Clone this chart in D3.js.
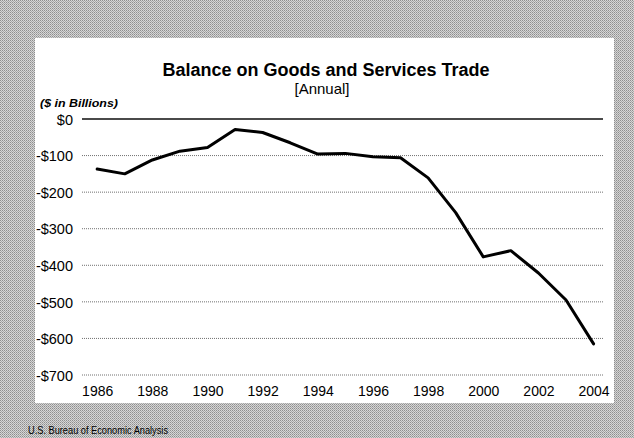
<!DOCTYPE html>
<html>
<head>
<meta charset="utf-8">
<script src="https://cdn.jsdelivr.net/npm/d3@7/dist/d3.min.js"></script>
<style>
  html, body { margin: 0; padding: 0; background: #bbbbbb; }
  svg { display: block; }
  text { font-family: Arial, "Liberation Sans", sans-serif; fill: #000; }
</style>
</head>
<body>
<svg id="chart" width="634" height="438"></svg>
<script>
// Annual balance on goods and services trade, billions of dollars
const years = [1986, 1987, 1988, 1989, 1990, 1991, 1992, 1993, 1994, 1995,
               1996, 1997, 1998, 1999, 2000, 2001, 2002, 2003, 2004];
const balance = [-137, -150, -112, -88, -78, -29, -37, -65, -96, -94,
                 -103, -106, -161, -256, -377, -360, -421, -495, -615];
const yTicks = [0, -100, -200, -300, -400, -500, -600, -700];
const xTickYears = [1986, 1988, 1990, 1992, 1994, 1996, 1998, 2000, 2002, 2004];

const titleText = "Balance on Goods and Services Trade";
const subtitleText = "[Annual]";
const unitText = "($ in Billions)";
const sourceText = "U.S. Bureau of Economic Analysis";

const W = 634, H = 438;
const panel = { x: 35, y: 38, w: 579, h: 365 };
const plot = { left: 82, right: 603, top: 119, bottom: 375 };

const svg = d3.select("#chart");
const defs = svg.append("defs");

// halftone-like grey backdrop
const pat = defs.append("pattern")
  .attr("id", "dither").attr("width", 2).attr("height", 2)
  .attr("patternUnits", "userSpaceOnUse");
pat.append("rect").attr("width", 2).attr("height", 2).attr("fill", "#d6d6d6");
pat.append("rect").attr("width", 1).attr("height", 1).attr("fill", "#8e8e8e");
pat.append("rect").attr("x", 1).attr("y", 1).attr("width", 1).attr("height", 1).attr("fill", "#a8a8a8");

svg.append("rect").attr("width", W).attr("height", H).attr("fill", "url(#dither)");

svg.append("rect")
  .attr("x", panel.x).attr("y", panel.y)
  .attr("width", panel.w).attr("height", panel.h)
  .attr("fill", "#ffffff");

const x = d3.scaleLinear().domain([1985.45, 2004.45]).range([plot.left, plot.right + 3]);
const y = d3.scaleLinear().domain([0, -700]).range([plot.top, plot.bottom]);

// horizontal gridlines
svg.append("g").selectAll("line")
  .data(yTicks)
  .join("line")
  .attr("x1", plot.left).attr("x2", plot.right)
  .attr("y1", d => y(d)).attr("y2", d => y(d))
  .attr("stroke", d => d === 0 ? "#4a4a4a" : "#707070")
  .attr("stroke-width", d => d === 0 ? 2 : 1)
  .attr("stroke-dasharray", d => d === 0 ? null : "1,1");

// y axis labels
const fmt = v => (v < 0 ? "-$" : "$") + Math.abs(v);
const yAxis = d3.axisLeft(y).tickValues(yTicks).tickFormat(fmt).tickSize(0).tickPadding(0);
const gy = svg.append("g").attr("transform", `translate(73,0)`).call(yAxis);
gy.select(".domain").remove();
gy.selectAll("text").attr("font-size", 14.5).attr("font-family", "Arial, 'Liberation Sans', sans-serif")
  .attr("fill", "#000").attr("dy", "0.36em");

// x axis labels
const xAxis = d3.axisBottom(x).tickValues(xTickYears).tickFormat(d3.format("d")).tickSize(0).tickPadding(0);
const gx = svg.append("g").attr("transform", `translate(0,386)`).call(xAxis);
gx.select(".domain").remove();
gx.selectAll("text").attr("font-size", 14).attr("font-family", "Arial, 'Liberation Sans', sans-serif")
  .attr("fill", "#000");

// trade balance line
const line = d3.line().x((d, i) => x(years[i])).y(d => y(d));
svg.append("path")
  .datum(balance)
  .attr("d", line)
  .attr("fill", "none")
  .attr("stroke", "#000")
  .attr("stroke-width", 3)
  .attr("stroke-linejoin", "round")
  .attr("stroke-linecap", "round");

// titles
svg.append("text").attr("x", 326).attr("y", 76)
  .attr("text-anchor", "middle").attr("font-size", 18).attr("font-weight", "bold")
  .text(titleText);
svg.append("text").attr("x", 322).attr("y", 94)
  .attr("text-anchor", "middle").attr("font-size", 15)
  .text(subtitleText);
svg.append("text").attr("x", 40).attr("y", 107)
  .attr("font-size", 10.5).attr("font-weight", "bold").attr("font-style", "italic")
  .attr("textLength", 78).attr("lengthAdjust", "spacingAndGlyphs")
  .text(unitText);

// source note
svg.append("text").attr("x", 28).attr("y", 434)
  .attr("font-size", 11.5)
  .attr("textLength", 140).attr("lengthAdjust", "spacingAndGlyphs")
  .text(sourceText);
</script>
</body>
</html>
